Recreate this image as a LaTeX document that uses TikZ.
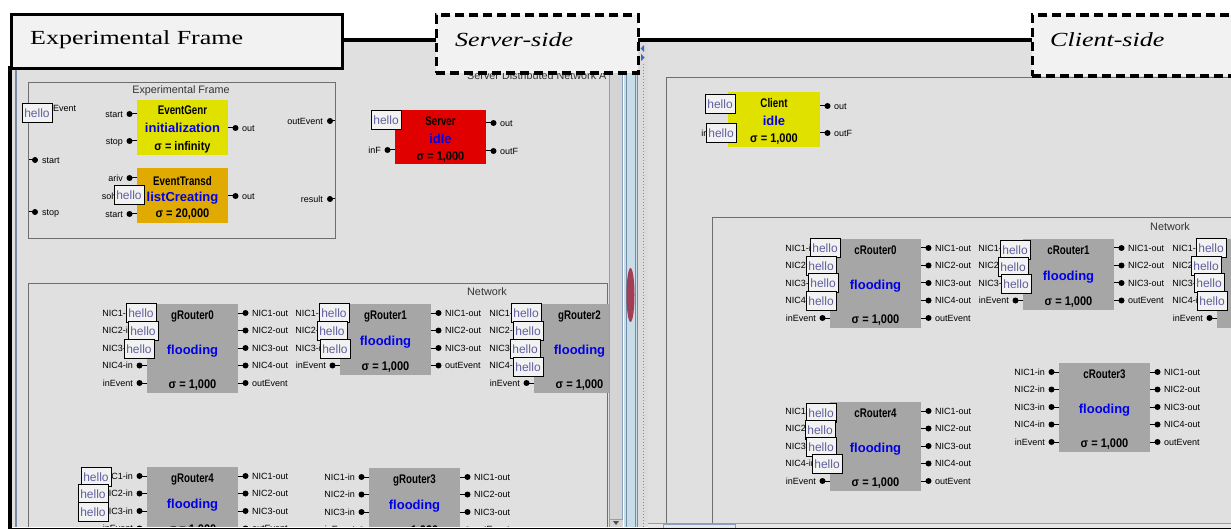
\documentclass[tikz,border=0pt]{standalone}
\usepackage{fontspec}
\setmainfont{Liberation Serif}
\newfontfamily\uif{Liberation Sans}
\newfontfamily\uic[FakeStretch=0.78]{Liberation Sans}
\newfontfamily\uis[FakeStretch=0.88]{Liberation Sans}
\newfontfamily\serf[FakeStretch=1.3]{Liberation Serif}
\definecolor{panelgray}{HTML}{E0E0E0}
\definecolor{boxfill}{HTML}{F2F2F2}
\definecolor{routergray}{HTML}{A6A6A6}
\definecolor{yellowc}{HTML}{E1E100}
\definecolor{orangec}{HTML}{E0AA00}
\definecolor{redc}{HTML}{E00000}
\definecolor{stateblue}{HTML}{0000E6}
\definecolor{hellotext}{HTML}{5F5F9F}
\definecolor{framegray}{HTML}{6E6E6E}
\definecolor{slate}{HTML}{7A8AA2}
\definecolor{sbar}{HTML}{8AA0C0}
\definecolor{sbfill}{HTML}{D4D4D4}
\definecolor{splitfill}{HTML}{C8DDE8}
\definecolor{splitline}{HTML}{6F8CA8}
\definecolor{blobred}{HTML}{9A1830}
\definecolor{gripfill}{HTML}{DCDCDC}
\definecolor{arrowblue}{HTML}{3A6AC0}
\definecolor{tabfill}{HTML}{E8E8E8}
\tikzset{
 frame/.style={draw=framegray, line width=0.9pt},
 plbl/.style={font=\uif\fontsize{9}{9}\selectfont, inner sep=0, text height=6.5pt, text depth=0pt},
 captxt/.style={font=\uif\fontsize{10.8}{11}\selectfont, inner sep=0, text=black!80, text height=7.5pt, text depth=0pt},
 pdot/.style={circle, fill=black, inner sep=0, minimum size=6pt},
 pline/.style={line width=1pt},
 hellobox/.style={draw=black, fill=boxfill, line width=0.9pt, minimum width=30pt, minimum height=19pt, inner sep=0, font=\uif\fontsize{12}{12}\selectfont, text=hellotext},
 ttl/.style={font=\uic\bfseries\fontsize{12.5}{12}\selectfont, inner sep=0, text height=9pt, text depth=0pt},
 st/.style={font=\uif\bfseries\fontsize{13}{13}\selectfont, text=stateblue, inner sep=0, text height=9.5pt, text depth=0pt},
 sig/.style={font=\uis\bfseries\fontsize{12.5}{12}\selectfont, inner sep=0, text height=9pt, text depth=0pt},
 bigt/.style={font=\serf\fontsize{20}{20}\selectfont, inner sep=0, anchor=west},
 bigi/.style={font=\serf\itshape\fontsize{20}{20}\selectfont, inner sep=0, anchor=west},
}
\newcommand\atom[6]{\node[fill=#6, inner sep=0, outer sep=0, minimum width={#4pt-#2pt}, minimum height={#5pt-#3pt}, anchor=north west] (#1) at (#2,#3) {};}
\newcommand\router[8]{\atom{#1}{#2}{#3}{#4}{#5}{routergray}
 \node[ttl] (#1t) at ({(#2+#4)/2},#3+11) {#6};
 \node[st] (#1s) at ({(#2+#4)/2},{(#3+#5)/2+1.5}) {#7};
 \node[sig] (#1g) at ({(#2+#4)/2},#5-9) {#8};}
\newcommand\pin[3]{\draw[pline] (#1,#2) -- (#1-7.5,#2);
 \node[pdot] at (#1-7.5,#2) {};
 \node[plbl, anchor=east] at (#1-14,#2) {#3};}
\newcommand\pout[3]{\draw[pline] (#1,#2) -- (#1+7.5,#2);
 \node[pdot] at (#1+7.5,#2) {};
 \node[plbl, anchor=west] at (#1+14,#2) {#3};}
\newcommand\fivein[2]{\pin{#1}{#2+9}{NIC1-in}\pin{#1}{#2+26.5}{NIC2-in}\pin{#1}{#2+44}{NIC3-in}\pin{#1}{#2+61.5}{NIC4-in}\pin{#1}{#2+79}{inEvent}}
\newcommand\fiveout[2]{\pout{#1}{#2+9}{NIC1-out}\pout{#1}{#2+26.5}{NIC2-out}\pout{#1}{#2+44}{NIC3-out}\pout{#1}{#2+61.5}{NIC4-out}\pout{#1}{#2+79}{outEvent}}
\newcommand\fourin[2]{\pin{#1}{#2+9}{NIC1-in}\pin{#1}{#2+26.5}{NIC2-in}\pin{#1}{#2+44}{NIC3-in}\pin{#1}{#2+61.5}{inEvent}}
\newcommand\fourout[2]{\pout{#1}{#2+9}{NIC1-out}\pout{#1}{#2+26.5}{NIC2-out}\pout{#1}{#2+44}{NIC3-out}\pout{#1}{#2+61.5}{outEvent}}
\newcommand\hello[3]{\node[hellobox] (#1) at (#2,#3) {hello};}
\begin{document}
\begin{tikzpicture}[x=1pt,y=-1pt]
\useasboundingbox (0,0) rectangle (1231,529);
\fill[white] (0,0) rectangle (1231,529);
% ================= left window =================
\begin{scope}
\clip (12,42) rectangle (609,526.5);
\fill[panelgray] (12,42) rectangle (609,529);
\draw[slate, line width=2pt] (16,42) -- (16,529);
\node[captxt, anchor=west] (sdn) at (467,76) {Server Distributed Network A};
% experimental frame (coupled)
\draw[frame] (28,82) rectangle (335,238);
\node[captxt] (eft) at (181,90) {Experimental Frame};
\draw[pline] (29,160) -- (35,160); \node[pdot] (efs) at (35,160) {}; \node[plbl,anchor=west] at (42,160) {start};
\draw[pline] (29,212) -- (35,212); \node[pdot] (eft2) at (35,212) {}; \node[plbl,anchor=west] at (42,212) {stop};
\draw[pline] (330,121) -- (335,121); \node[pdot] (efo) at (330,121) {}; \node[plbl,anchor=east] at (323,121) {outEvent};
\draw[pline] (330,199) -- (335,199); \node[pdot] (efr) at (330,199) {}; \node[plbl,anchor=east] at (323,199) {result};
\node[plbl,anchor=west] at (53,108) {Event};
\atom{gen}{137}{100}{228}{155}{yellowc}
\node[ttl] at (182.5,110) {EventGenr};
\node[st] at (182.5,128) {initialization};
\node[sig] at (182.5,146) {σ = infinity};
\pin{137}{114}{start}\pin{137}{141}{stop}\pout{228}{128}{out}
\atom{tra}{137}{168}{228}{223}{orangec}
\node[ttl] at (182.5,181) {EventTransd};
\node[st] at (182.5,197) {listCreating};
\node[sig] at (182.5,213) {σ = 20,000};
\pin{137}{178}{ariv}\pin{137}{196}{solve}\pin{137}{214}{start}\pout{228}{196}{out}
\hello{h1}{37}{113}
\hello{h2}{129}{195}
% server
\atom{srv}{395}{110}{486}{164}{redc}
\node[ttl] at (440.5,121) {Server};
\node[st] at (440.5,139) {idle};
\node[sig] at (440.5,156) {σ = 1,000};
\pin{395}{150}{inF}\pout{486}{123}{out}\pout{486}{151}{outF}
\hello{h3}{386}{120}
% network
\draw[frame] (28,283) rectangle (607,600);
\node[captxt] (nwl) at (487,292) {Network};
\router{g0}{147}{304}{238}{393}{gRouter0}{flooding}{σ = 1,000}
\fivein{147}{304}\fiveout{238}{304}
\router{g1}{340}{304}{431}{375}{gRouter1}{flooding}{σ = 1,000}
\fourin{340}{304}\fourout{431}{304}
\router{g2}{534}{304}{625}{393}{gRouter2}{flooding}{σ = 1,000}
\fivein{534}{304}
\router{g4}{147}{467}{238}{538}{gRouter4}{flooding}{σ = 1,000}
\fourin{147}{467}\fourout{238}{467}
\router{g3}{369}{468}{460}{539}{gRouter3}{flooding}{σ = 1,000}
\fourin{369}{468}\fourout{460}{468}
\hello{h4}{141}{313}\hello{h5}{143}{331}\hello{h6}{139}{349}
\hello{h7}{334}{313}\hello{h8}{332}{331}\hello{h9}{335}{349}
\hello{h10}{526}{313}\hello{h11}{528}{331}\hello{h12}{525}{349}\hello{h13}{528}{367}
\hello{h14}{96}{477}\hello{h15}{93}{494}\hello{h16}{93}{512}
\end{scope}
% ================= splitter =================
\fill[sbfill] (609,42) rectangle (623,527) ;
\draw[sbar, line width=1pt] (609.5,72) -- (609.5,519.5) -- (622.5,519.5) -- (622.5,72);
\draw[sbar] (609.5,519.5) -- (609.5,527);
\fill[black!70] (613,521) -- (619,521) -- (616,525) -- cycle;
\fill[splitfill] (624,42) rectangle (637,527);
\draw[splitline] (626,42) -- (626,527);
\draw[splitline] (635,42) -- (635,527);
\fill[blobred, opacity=0.8] (630.5,295) ellipse (4pt and 27pt);
\fill[gripfill] (637,42) rectangle (648,527);
\draw[splitline] (637.5,42) -- (637.5,527);
\draw[black!45, dotted, line width=1pt] (643.5,64) -- (643.5,527);
\fill[arrowblue] (644,45) -- (644,52) -- (640.5,48.5) -- cycle;
\fill[arrowblue] (641,54) -- (641,61) -- (644.5,57.5) -- cycle;
% ================= right window =================
\begin{scope}
\clip (648,42) rectangle (1231,523);
\fill[panelgray] (648,42) rectangle (1231,529);
\draw[frame] (666,77) rectangle (1240,600);
\draw[frame] (712,217) rectangle (1240,600);
\node[captxt] (nwr) at (1170,227) {Network};
\atom{cli}{728}{92}{820}{147}{yellowc}
\node[ttl] at (774,103) {Client};
\node[st] at (774,121) {idle};
\node[sig] at (774,138) {σ = 1,000};
\pin{728}{133}{inF}\pout{820}{106}{out}\pout{820}{133}{outF}
\hello{h17}{720}{104}\hello{h18}{721}{133}
\router{c0}{830}{239}{921}{328}{cRouter0}{flooding}{σ = 1,000}
\fivein{830}{239}\fiveout{921}{239}
\router{c1}{1023}{239}{1114}{310}{cRouter1}{flooding}{σ = 1,000}
\fourin{1023}{239}\fourout{1114}{239}
\router{c2}{1217}{239}{1308}{328}{cRouter2}{flooding}{σ = 1,000}
\fivein{1217}{239}
\router{c3}{1059}{363}{1150}{452}{cRouter3}{flooding}{σ = 1,000}
\fivein{1059}{363}\fiveout{1150}{363}
\router{c4}{830}{402}{921}{491}{cRouter4}{flooding}{σ = 1,000}
\fivein{830}{402}\fiveout{921}{402}
\hello{h19}{825}{248}\hello{h20}{821}{266}\hello{h21}{823}{283}\hello{h22}{821}{301}
\hello{h23}{1015}{250}\hello{h24}{1013}{267}\hello{h25}{1016}{284}
\hello{h26}{1211}{248}\hello{h27}{1206}{266}\hello{h28}{1209}{283}\hello{h29}{1212}{301}
\hello{h30}{821}{413}\hello{h31}{820}{430}\hello{h32}{821}{447}\hello{h33}{827}{464}
\end{scope}
\fill[tabfill] (648,523) rectangle (1231,528);
\draw[sbar] (648,523.5) -- (1231,523.5);
\draw[sbar] (663.5,528) -- (663.5,524.5) -- (735.5,524.5) -- (735.5,528);
% ================= borders and callouts =================
\draw[line width=2pt] (8,528.5) -- (1231,528.5);
\draw[line width=3.5pt] (10,66) -- (10,529);
\draw[line width=4pt] (338,40) -- (436,40);
\draw[line width=4pt] (634,40) -- (1032,40);
\node[draw, line width=3pt, fill=boxfill, inner sep=0, minimum width=331pt, minimum height=54pt, anchor=north west] (ef) at (9.5,13.5) {};
\node[bigt] (eftext) at (30,40) {Experimental Frame};
\node[draw, dash pattern=on 9pt off 5pt, line width=3.5pt, fill=boxfill, inner sep=0, minimum width=202pt, minimum height=58pt, anchor=north west] (ss) at (434.5,13.5) {};
\node[bigi] (sstext) at (455,40) {Server-side};
\node[draw, dash pattern=on 9pt off 5pt, line width=3.5pt, fill=boxfill, inner sep=0, minimum width=215pt, minimum height=61pt, anchor=north west] (cs) at (1030.5,13.5) {};
\node[bigi] (cstext) at (1050,40) {Client-side};
\end{tikzpicture}
\end{document}
